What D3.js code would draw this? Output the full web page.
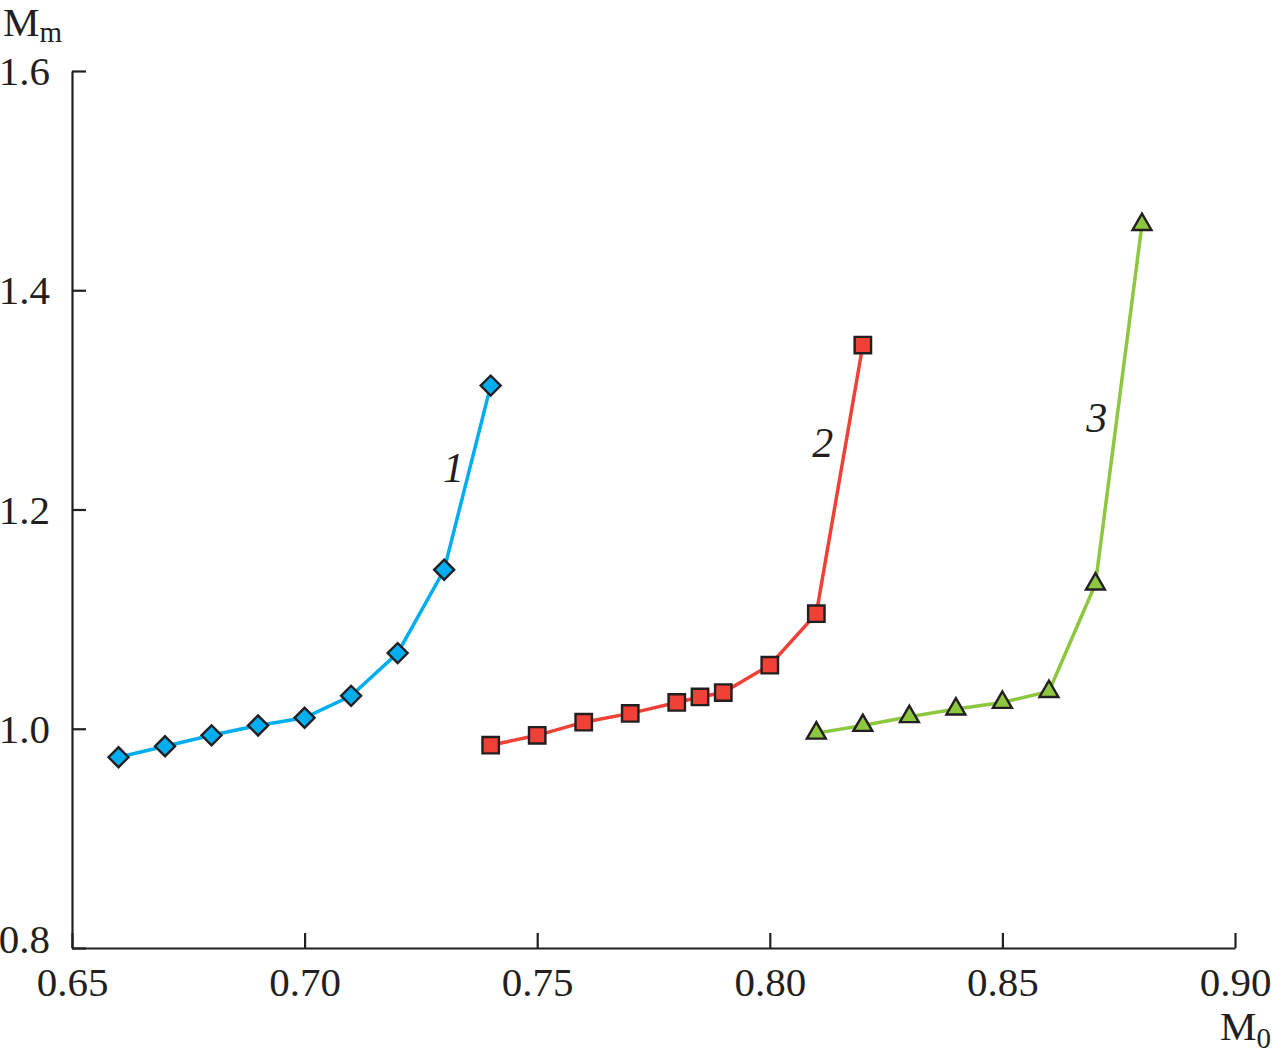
<!DOCTYPE html>
<html><head><meta charset="utf-8">
<script src="https://cdn.jsdelivr.net/npm/d3@7"></script>
<style>body{margin:0;background:#fff}svg{display:block}</style>
</head><body>
<script>
const xTicks = [0.65, 0.70, 0.75, 0.80, 0.85, 0.90];
const yTicks = [0.8, 1.0, 1.2, 1.4, 1.6];
const x1 = [0.66, 0.67, 0.68, 0.69, 0.70, 0.71, 0.72, 0.73, 0.74];
const y1 = [0.974, 0.984, 0.994, 1.003, 1.010, 1.030, 1.069, 1.145, 1.313];
const x2 = [0.74, 0.75, 0.76, 0.77, 0.78, 0.785, 0.79, 0.80, 0.81, 0.82];
const y2 = [0.985, 0.994, 1.006, 1.014, 1.024, 1.029, 1.033, 1.058, 1.105, 1.350];
const x3 = [0.81, 0.82, 0.83, 0.84, 0.85, 0.86, 0.87, 0.88];
const y3 = [0.996, 1.003, 1.011, 1.018, 1.024, 1.034, 1.132, 1.460];
const seriesLabels = ["1", "2", "3"];
const labelPos = [[0.7320, 1.225], [0.8114, 1.248], [0.8703, 1.271]];

const W = 1272, H = 1062;
const svg = d3.select("body").append("svg").attr("width", W).attr("height", H);
const x = d3.scaleLinear().domain([0.65, 0.90]).range([72, 1235]);
const y = d3.scaleLinear().domain([0.8, 1.6]).range([948, 71]);
const font = "'Liberation Serif', 'Times New Roman', serif";
const ink = "#231f20";

// axes
const xAxis = d3.axisBottom(x).tickValues(xTicks).tickSize(-15).tickSizeOuter(0).tickFormat(d3.format(".2f")).tickPadding(19);
const yAxis = d3.axisLeft(y).tickValues(yTicks).tickSize(-14).tickSizeOuter(0).tickFormat(d3.format(".1f")).tickPadding(22);
const gx = svg.append("g").attr("transform", "translate(0,948)").call(xAxis);
const gy = svg.append("g").attr("transform", "translate(72,0)").call(yAxis);
[gx, gy].forEach(g => {
  g.selectAll("path.domain").attr("stroke", ink).attr("stroke-width", 2.2);
  g.selectAll(".tick line").attr("stroke", ink).attr("stroke-width", 2.2);
  g.selectAll(".tick text").attr("fill", ink).style("font-family", font).style("font-size", "41px");
});
gx.selectAll(".tick text").attr("dy", "0.71em");
gy.selectAll(".tick text").attr("dy", "0.33em");
gy.select(".tick:first-of-type text").attr("dy", "0.12em");

// axis titles
const tm = svg.append("text").attr("x", 3).attr("y", 36).attr("fill", ink).style("font-family", font).style("font-size", "41px");
tm.append("tspan").text("M");
tm.append("tspan").attr("font-size", "29px").attr("dy", "6").text("m");
const t0 = svg.append("text").attr("x", 1271).attr("y", 1040).attr("text-anchor", "end").attr("fill", ink).style("font-family", font).style("font-size", "41px");
t0.append("tspan").text("M");
t0.append("tspan").attr("font-size", "29px").attr("dy", "8").text("0");

const series = [
  {xs: x1, ys: y1, color: "#00aeef", sym: d3.symbolSquare, size: 200, rot: 45},
  {xs: x2, ys: y2, color: "#ef4136", sym: d3.symbolSquare, size: 270, rot: 0},
  {xs: x3, ys: y3, color: "#8dc63f", sym: d3.symbolTriangle, size: 155, rot: 0}
];
const line = d3.line().x(d => x(d[0])).y(d => y(d[1]));
series.forEach((s, i) => {
  const pts = s.xs.map((v, j) => [v, s.ys[j]]);
  svg.append("path").datum(pts).attr("d", line).attr("fill", "none").attr("stroke", s.color).attr("stroke-width", 3.5);
  svg.selectAll(null).data(pts).enter().append("path")
    .attr("d", d3.symbol().type(s.sym).size(s.size))
    .attr("transform", d => `translate(${x(d[0])},${y(d[1])}) rotate(${s.rot})`)
    .attr("fill", s.color).attr("stroke", ink).attr("stroke-width", 2.4);
  svg.append("text").attr("x", x(labelPos[i][0])).attr("y", y(labelPos[i][1]))
    .attr("text-anchor", "middle").attr("fill", ink)
    .style("font-family", font).style("font-size", "42px").style("font-style", "italic")
    .text(seriesLabels[i]);
});
</script>
</body></html>
